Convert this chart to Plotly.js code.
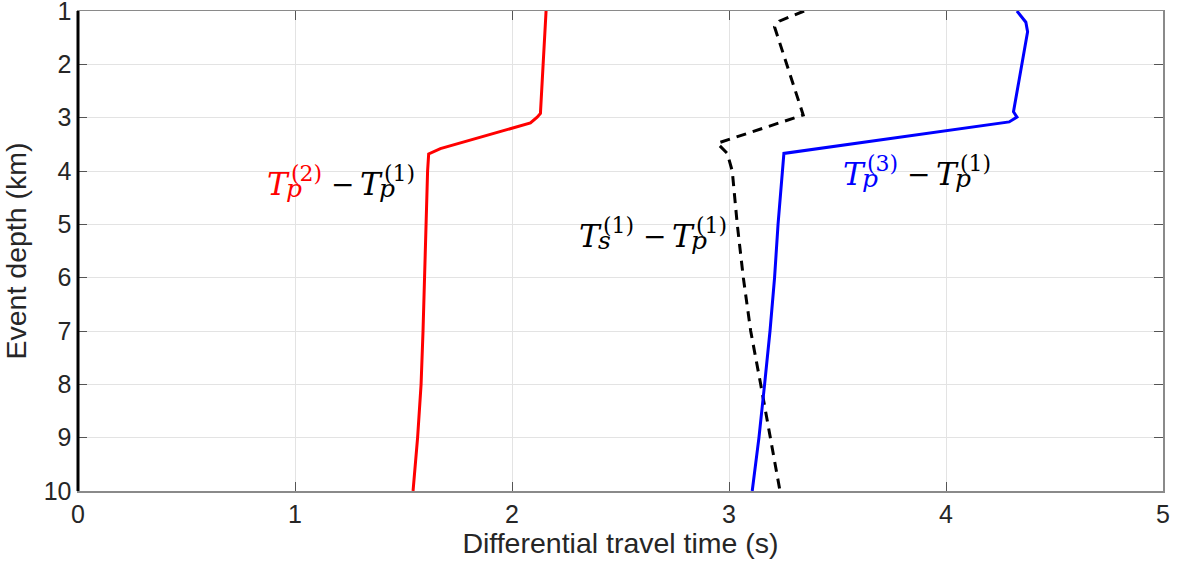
<!DOCTYPE html>
<html>
<head>
<meta charset="utf-8">
<script src="https://cdn.plot.ly/plotly-3.0.1.min.js"></script>
<style>
  html, body { margin: 0; padding: 0; background: #fff; }
  #chart { width: 1178px; height: 563px; }
</style>
</head>
<body>
<div id="chart"></div>
<script>
// ---- Data ----
// Tp(2) - Tp(1)  (red)
const depthRed = [1, 2, 2.92, 2.99, 3.10, 3.58, 3.68, 4, 5, 6, 7, 8, 9, 10];
const timeRed  = [2.157, 2.145, 2.131, 2.116, 2.085, 1.670, 1.616, 1.611, 1.605, 1.597, 1.590, 1.581, 1.565, 1.544];

// Tp(3) - Tp(1)  (blue)
const depthBlue = [1, 1.21, 1.39, 2, 2.89, 2.99, 3.08, 3.67, 4, 5, 6, 7, 8, 9, 10];
const timeBlue  = [4.327, 4.368, 4.376, 4.350, 4.311, 4.327, 4.291, 3.253, 3.246, 3.226, 3.210, 3.189, 3.164, 3.138, 3.107];

// Ts(1) - Tp(1)  (black dashed)
const depthBlack = [1, 1.19, 1.30, 2.95, 3.48, 3.67, 4, 5, 6, 7, 8, 9, 10];
const timeBlack  = [3.346, 3.232, 3.210, 3.342, 2.946, 2.992, 3.015, 3.038, 3.066, 3.100, 3.146, 3.189, 3.235];

// axis ticks
const xTicks = [0, 1, 2, 3, 4, 5];
const yTicks = [1, 2, 3, 4, 5, 6, 7, 8, 9, 10];

// label anchors (data coords) and text pieces
const labels = [
  {x: 0.876, y: 4.451, sup1: "(2)", sub1: "p", color1: "#ff0000", sup2: "(1)", sub2: "p"},
  {x: 2.315, y: 5.425, sup1: "(1)", sub1: "s", color1: "#000000", sup2: "(1)", sub2: "p"},
  {x: 3.529, y: 4.264, sup1: "(3)", sub1: "p", color1: "#0000ff", sup2: "(1)", sub2: "p"}
];

// ---- Traces ----
const traces = [
  {x: timeRed, y: depthRed, mode: "lines", line: {color: "#ff0000", width: 3}, hoverinfo: "skip"},
  {x: timeBlack, y: depthBlack, mode: "lines", line: {color: "#000000", width: 3, dash: "10px,7px"}, hoverinfo: "skip"},
  {x: timeBlue, y: depthBlue, mode: "lines", line: {color: "#0000ff", width: 3}, hoverinfo: "skip"}
];

// ---- Math-like labels built from pieces ----
const MAIN = 31, SUP = 22, SUB = 25, MINUS = 28;
const serif = "DejaVu Serif, Liberation Serif, serif";
function piece(lb, text, dx, baseUp, size, color, italic) {
  return {
    x: lb.x, y: lb.y, xref: "x", yref: "y", showarrow: false,
    text: italic ? "<i>" + text + "</i>" : text,
    xanchor: "left", yanchor: "middle",
    xshift: dx, yshift: baseUp + size * 0.346,
    font: {family: serif, size: size, color: color}
  };
}
const annotations = [];
labels.forEach(lb => {
  annotations.push(piece(lb, "T", -3, 0, MAIN, lb.color1, true));
  annotations.push(piece(lb, lb.sup1, 21, 14, SUP, lb.color1, false));
  annotations.push(piece(lb, lb.sub1, 16, -2, SUB, lb.color1, true));
  annotations.push(piece(lb, "\u2212", 61, 1, MINUS, "#000000", false));
  annotations.push(piece(lb, "T", 90, 0, MAIN, "#000000", true));
  annotations.push(piece(lb, lb.sup2, 114, 14, SUP, "#000000", false));
  annotations.push(piece(lb, lb.sub2, 109, -2, SUB, "#000000", true));
});

const sans = "Liberation Sans, Arial, Helvetica, sans-serif";
const layout = {
  width: 1178, height: 563,
  margin: {l: 78, r: 15, t: 11, b: 72},
  paper_bgcolor: "#ffffff", plot_bgcolor: "#ffffff",
  showlegend: false,
  font: {family: sans, color: "#262626"},
  xaxis: {
    range: [0, 5], tickvals: xTicks, ticktext: xTicks.map(String),
    showgrid: true, gridcolor: "#e3e3e3", gridwidth: 1,
    zeroline: false, showline: true, linecolor: "#8a8a8a", linewidth: 1.5, mirror: "ticks",
    ticks: "inside", ticklen: 9, tickwidth: 1, tickcolor: "#555555",
    ticklabeloverflow: "allow",
    tickfont: {family: sans, size: 25, color: "#262626"},
    title: {text: "Differential travel time (s)", font: {family: sans, size: 28.5, color: "#262626"}, standoff: 6}
  },
  yaxis: {
    range: [10, 1], tickvals: yTicks, ticktext: yTicks.map(String),
    showgrid: true, gridcolor: "#e3e3e3", gridwidth: 1,
    zeroline: false, showline: true, linecolor: "#8a8a8a", linewidth: 1.5, mirror: "ticks",
    ticks: "inside", ticklen: 9, tickwidth: 1, tickcolor: "#555555",
    ticklabeloverflow: "allow",
    tickfont: {family: sans, size: 25, color: "#262626"},
    title: {text: "Event depth (km)", font: {family: sans, size: 28.5, color: "#262626"}, standoff: 8}
  },
  shapes: [
    {type: "line", xref: "paper", yref: "paper", x0: 0, x1: 0, y0: 0, y1: 1,
     line: {color: "#000000", width: 3}}
  ],
  annotations: annotations
};

Plotly.newPlot("chart", traces, layout, {staticPlot: true, displayModeBar: false});
</script>
</body>
</html>
